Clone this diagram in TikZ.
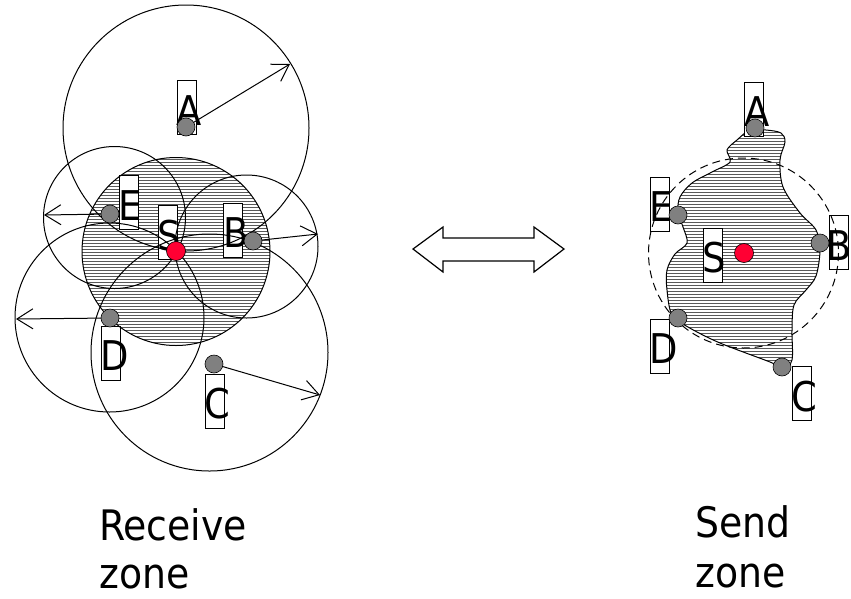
\documentclass[tikz,border=0pt]{standalone}
\usepackage{fontspec}
\setmainfont{DejaVu Sans Condensed}
\usetikzlibrary{arrows.meta,patterns,calc}
\definecolor{dotgray}{RGB}{128,128,128}
\definecolor{srcred}{RGB}{255,0,51}
% white box with a letter set at its lower left; #4 shifts the letter
\newcommand\boxtag[4][0]{%
  \node[lbox] (#2box) at (#3) {};
  \node[ltext] (#2txt) at ($(#2box.south west)+(#1,-10)$) {#4};
}
\begin{document}
\begin{tikzpicture}[x=1pt,y=-1pt,
  radiocircle/.style={circle, draw, line width=1pt, inner sep=0pt},
  hatch/.style={pattern=horizontal lines, pattern color=black!65},
  reach/.style={line width=1pt, -{Straight Barb[length=16pt,width=20pt,line width=1pt]}},
  nbr/.style={circle, draw, line width=0.6pt, fill=dotgray, minimum size=18pt, inner sep=0pt},
  src/.style={circle, draw, line width=0.6pt, fill=srcred, minimum size=19pt, inner sep=0pt},
  lbox/.style={draw, fill=white, line width=1pt, minimum width=19pt, minimum height=54pt, inner sep=0pt},
  ltext/.style={inner sep=0pt, font=\fontsize{41}{48}\selectfont, anchor=base west},
  caption/.style={inner sep=0pt, font=\fontsize{42}{48}\selectfont, anchor=base west},
]
\useasboundingbox (0,0) rectangle (851,598);

% ---------- receive zone ----------
\fill[hatch] (176,251.5) circle[radius=94];

\boxtag{lA}{186.5,107.5}{A}
\boxtag{lE}{128.5,202.5}{E}
\boxtag{lS}{167.5,232.5}{S}
\boxtag{lB}{233,230}{B}
\boxtag{lD}{110.5,353}{D}
\boxtag{lC}{214.5,401}{C}

\node[radiocircle, minimum size=188pt] (rS) at (176,251.5) {};
\node[radiocircle, minimum size=246pt] (rA) at (186,128) {};
\node[radiocircle, minimum size=142pt] (rE) at (114.5,217.5) {};
\node[radiocircle, minimum size=143pt] (rB) at (246.5,246.5) {};
\node[radiocircle, minimum size=189pt] (rD) at (109.5,317.5) {};
\node[radiocircle, minimum size=237pt] (rC) at (209.5,352.5) {};

\coordinate (tA) at (290,64);
\coordinate (tE) at (44,215);
\coordinate (tB) at (318,234);
\coordinate (tD) at (16,319);
\coordinate (tC) at (320,395);

\coordinate (cA) at (186,127);
\coordinate (cE) at (110,214);
\coordinate (cB) at (253,241);
\coordinate (cD) at (110,318);
\coordinate (cC) at (214,364);

\draw[reach] (cA) -- (tA);
\draw[reach] (cE) -- (tE);
\draw[reach] (cB) -- (tB);
\draw[reach] (cD) -- (tD);
\draw[reach] (cC) -- (tC);

\node[nbr] (nA) at (cA) {};
\node[nbr] (nE) at (cE) {};
\node[nbr] (nB) at (cB) {};
\node[nbr] (nD) at (cD) {};
\node[nbr] (nC) at (cC) {};
\node[src] (nS) at (176,251) {};

\node[caption] (recv1) at (99,540) {Receive};
\node[caption] (recv2) at (99,588) {zone};

% ---------- exchange arrow ----------
\draw[line width=1.2pt, fill=white]
  (413,249) -- (443,227) -- (443,238) -- (534,238) -- (534,227) -- (564,249)
  -- (534,272) -- (534,261) -- (443,261) -- (443,272) -- cycle;

% ---------- send zone ----------
\path[hatch, draw=black, line width=1pt] plot[smooth cycle, tension=0.55] coordinates {
  (766,130) (781,133) (785,142) (780,160) (783,187) (800,213) (816,230)
  (820,250) (816,276) (806,290) (794,305) (792,330) (792,360) (783,368)
  (770,362) (720,343) (688,327) (672,315) (667,290) (667,270) (675,254)
  (687,243) (683,227) (678,212) (680,197) (692,183) (712,172) (730,162)
  (727,150) (737,140) (750,130)};

\boxtag{rA}{754,109}{A}
\boxtag{rE}{659.5,204}{E}
\boxtag{rS}{712.5,255}{S}
\boxtag[-3]{rB}{839,242.5}{B}
\boxtag{rD}{659.5,346}{D}
\boxtag{rC}{801.5,393.5}{C}

\draw[line width=1pt, dash pattern=on 8pt off 5pt] (743.5,253) circle[radius=95];

\node[nbr] (mA) at (755,128) {};
\node[nbr] (mE) at (678,215) {};
\node[nbr] (mB) at (820,243) {};
\node[nbr] (mD) at (678,318) {};
\node[nbr] (mC) at (782,367) {};
\node[src] (mS) at (744,253) {};

\node[caption] (send1) at (695,537) {Send};
\node[caption] (send2) at (695,587) {zone};
\end{tikzpicture}
\end{document}
